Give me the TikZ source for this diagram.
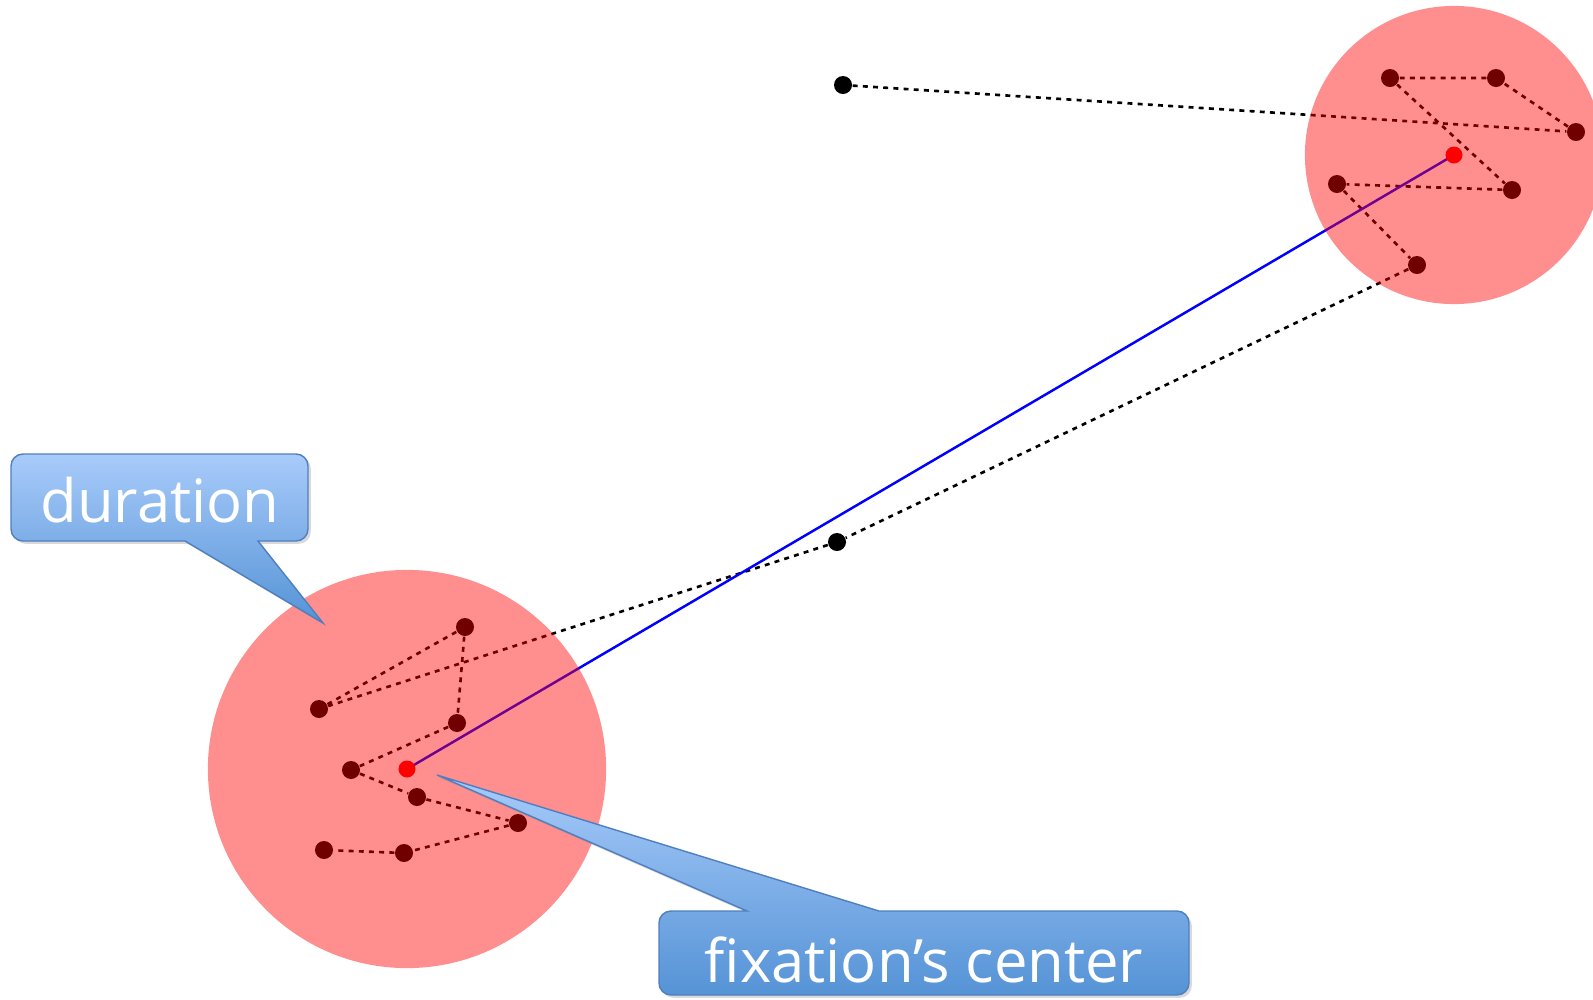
\documentclass[tikz,border=0pt]{standalone}
\usepackage{fontspec}
\setmainfont{Open Sans}
\usetikzlibrary{shadows}
\definecolor{calltop}{HTML}{A8CBFA}
\definecolor{callbot}{HTML}{5593D6}
\definecolor{callline}{HTML}{4F7FC0}

\begin{document}
\begin{tikzpicture}[x=0.01cm,y=-0.01cm,
g/.style={circle,fill=black,inner sep=0pt,minimum size=1.8mm},
ctr/.style={circle,fill=red,inner sep=0pt,minimum size=1.7mm},
smp/.style={line width=.75pt,dash pattern=on 1.4pt off 1.5pt},
sac/.style={blue,line width=.7pt},
area/.style={fill=red,fill opacity=.44},
co/.style={top color=calltop,bottom color=callbot,draw=callline,line width=.4pt,
  drop shadow={opacity=.3,shadow xshift=.8pt,shadow yshift=-.8pt}},
lbl/.style={text=white,font=\fontsize{17}{20}\selectfont,inner sep=0pt,anchor=base}]
\useasboundingbox (0,0) rectangle (1593,999);
% gaze samples
\node[g](p1) at (843,85){};
\node[g](a3) at (1576,132){};\node[g](a2) at (1496,78){};\node[g](a1) at (1390,78){};
\node[g](a4) at (1512,190){};\node[g](a5) at (1337,184){};\node[g](a6) at (1417,265){};
\node[g](p2) at (837,542){};
\node[g](b2) at (319,709){};\node[g](b1) at (465,627){};\node[g](b3) at (457,723){};
\node[g](b4) at (351,770){};\node[g](b5) at (417,797){};\node[g](b6) at (518,823){};
\node[g](b7) at (404,853){};\node[g](b8) at (324,850){};
\coordinate (c1) at (407,769);\coordinate (c2) at (1454,155);
\draw[smp](p1)--(a3)--(a2)--(a1)--(a4)--(a5)--(a6)--(p2)--(b2)--(b1)--(b3)--(b4)--(b5)--(b6)--(b7)--(b8);
\draw[sac](c1)--(c2);
% fixations
\fill[area](c1) circle[radius=1.99cm];
\fill[area](c2) circle[radius=1.49cm];
\node[ctr](f1) at (c1){};\node[ctr](f2) at (c2){};
% callouts
\coordinate (durtip) at (323,623);\coordinate (fixtip) at (437,775);
\path[co] (160,454) [rounded corners=3.4pt] -- (308,454) -- (308,541) [sharp corners] -- (258,541) -- (durtip) -- (185,541) [rounded corners=3.4pt] -- (11,541) -- (11,454) -- cycle;
\path[co] (924,995) [rounded corners=3.4pt] -- (659,995) -- (659,911) [sharp corners] -- (747,911) -- (fixtip) -- (879,911) [rounded corners=3.4pt] -- (1189,911) -- (1189,995) -- cycle;
\node[lbl](dur) at (160,522){duration};
\node[lbl](fix) at (924,982){fixation’s center};
\end{tikzpicture}
\end{document}
